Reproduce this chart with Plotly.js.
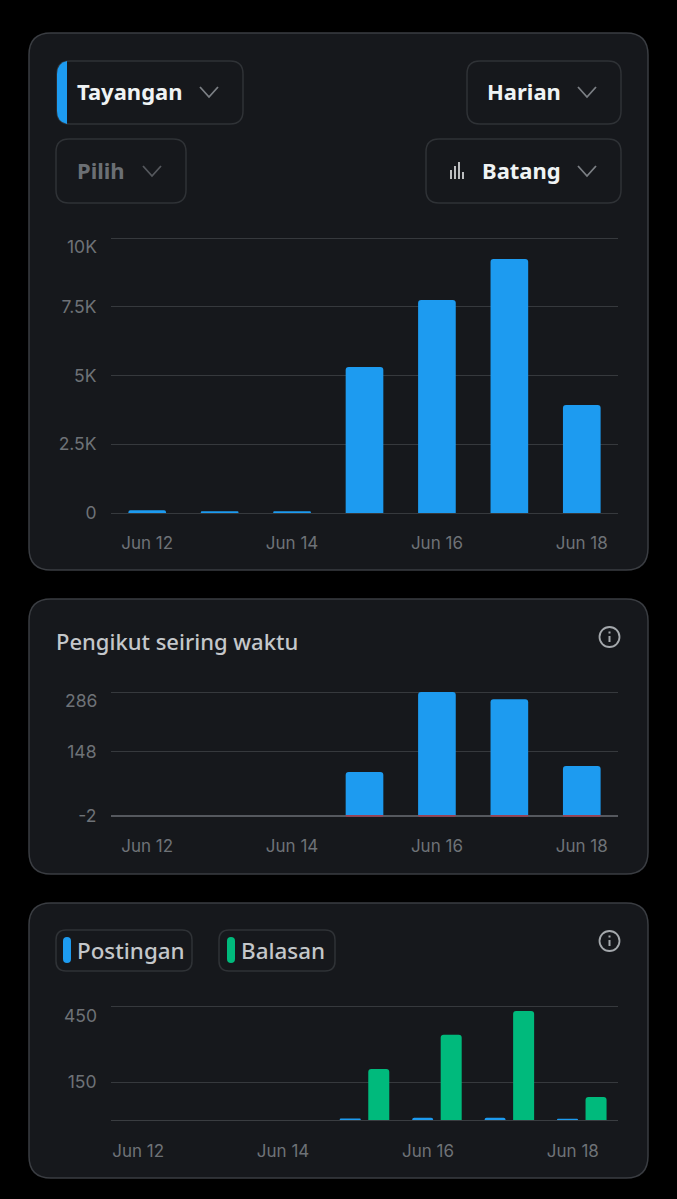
<!DOCTYPE html>
<html><head><meta charset="utf-8">
<script src="https://cdn.plot.ly/plotly-3.0.1.min.js"></script>
<style>html,body{margin:0;padding:0;background:#000}#c{width:677px;height:1199px}</style>
</head><body><div id="c"></div>
<script>
const days = ["Jun 12","Jun 13","Jun 14","Jun 15","Jun 16","Jun 17","Jun 18"];
const dateTickIdx = [0,2,4,6];
const dateTickText = ["Jun 12","Jun 14","Jun 16","Jun 18"];
const viewsValues = [100,60,60,5310,7745,9240,3930];
const viewsTicks = [0,2500,5000,7500,10000];
const viewsTickText = ["0","2.5K","5K","7.5K","10K"];
const followsGained = [0,0,0,100,286,269,114];
const followsLost = [0,0,0,-3,-3,-3,-3];
const followTicks = [-2,148,286];
const followTickText = ["-2","148","286"];
const postsValues = [0,0,0,6,9,9,5];
const repliesValues = [0,0,0,201,337,430,91];
const activityTicks = [0,150,450];
const activityTickText = ["","150","450"];

const W=677,H=1199;
const BLUE="#1d9bf0",GREEN="#00ba7c",RED="#b8344a",GRID="#36393d",TICK="#6e7277";
const FONT="Inter, sans-serif", UI="'Noto Sans', sans-serif";
const NB="\u00A0";
const px=x=>x/W, py=y=>1-y/H;
function rr(x0,y0,x1,y1,r){
  const X=px,Y=py;
  return `M${X(x0+r)},${Y(y0)}L${X(x1-r)},${Y(y0)}Q${X(x1)},${Y(y0)} ${X(x1)},${Y(y0+r)}L${X(x1)},${Y(y1-r)}Q${X(x1)},${Y(y1)} ${X(x1-r)},${Y(y1)}L${X(x0+r)},${Y(y1)}Q${X(x0)},${Y(y1)} ${X(x0)},${Y(y1-r)}L${X(x0)},${Y(y0+r)}Q${X(x0)},${Y(y0)} ${X(x0+r)},${Y(y0)}Z`;
}
const shapes=[];
const box=(x0,y0,x1,y1,r,fill,line,w)=>shapes.push({type:'path',xref:'paper',yref:'paper',path:rr(x0,y0,x1,y1,r),fillcolor:fill,line:{color:line||'rgba(0,0,0,0)',width:w||0},layer:'below'});
const poly=(pts,color,w)=>shapes.push({type:'path',xref:'paper',yref:'paper',path:'M'+pts.map(p=>px(p[0])+','+py(p[1])).join('L'),line:{color,width:w},layer:'below'});
const chev=(cx,cy,c)=>poly([[cx-9,cy-5],[cx,cy+5],[cx+9,cy-5]],c,1.8);
const ann=[];
const label=(text,x,y,size,color,weight,anchor,family)=>ann.push({text,xref:'paper',yref:'paper',x:px(x),y:py(y),xanchor:anchor||'left',yanchor:'middle',showarrow:false,font:{size,color,weight:weight||400,family:family||UI}});

// cards
box(29,33,648,570,22,'#16181c','#3a3d42',1.5);
box(29,599,648,874,22,'#16181c','#3a3d42',1.5);
box(29,903,648,1178,22,'#16181c','#3a3d42',1.5);
// controls
const BORDER='#2f3236';
box(57,61,243,124,13,'#16181c',BORDER,1.5);
box(467,61,621,124,13,'#16181c',BORDER,1.5);
box(56,139,186,203,13,'#16181c',BORDER,1.5);
box(426,139,621,203,13,'#16181c',BORDER,1.5);
shapes.push({type:'path',xref:'paper',yref:'paper',layer:'below',fillcolor:BLUE,line:{width:0},
  path:`M${px(67)},${py(61)}Q${px(57)},${py(63)} ${px(57)},${py(74)}L${px(57)},${py(111)}Q${px(57)},${py(122)} ${px(67)},${py(124)}Z`});
chev(209,92,'#7b7f84');chev(587,92,'#7b7f84');chev(152,171,'#55585d');chev(587,171,'#7b7f84');
[[451,170,179],[455,166,179],[459,162,179],[463,172,179]].forEach(b=>poly([[b[0],b[1]],[b[0],b[2]]],'#e7e9ea',1.6));
label('Tayangan',75,91,22,'#eff3f4',700);
label('Harian',484.5,91,22,'#eff3f4',700);
label('Pilih',75,170,22,'#6b6f74',700);
label('Batang',480,170,22,'#eff3f4',700);
label('Pengikut seiring waktu',54,641,22,'#c4c7ca',500);
// info icons
[637,941].forEach(cy=>{
  shapes.push({type:'circle',xref:'paper',yref:'paper',layer:'below',x0:px(599.5),x1:px(619.5),y0:py(cy+10),y1:py(cy-10),line:{color:'#a4a8ac',width:1.8}});
  poly([[609.5,cy-1],[609.5,cy+5]],'#a4a8ac',2);
  poly([[609.5,cy-5.5],[609.5,cy-3.5]],'#a4a8ac',2);
});
// legend chips
box(56,930,192,971,10,'#16181c',BORDER,1.5);
box(219,930,335,971,10,'#16181c',BORDER,1.5);
box(63,937,71,963,4,BLUE);
box(227,937,235,963,4,GREEN);
label('Postingan',75,950,22.4,'#c4c7ca',500);
label('Balasan',239,950,22.4,'#c4c7ca',500);
// top labels sit below their gridline
label(viewsTickText[4],99,246,17.5,TICK,400,'right',FONT);
label(followTickText[2],99,700,17.5,TICK,400,'right',FONT);
label(activityTickText[2],99,1015,17.5,TICK,400,'right',FONT);

const idx=days.map((d,i)=>i);
const xAxis=(anchor,len,shift,line)=>({
  domain:[px(111),px(618)],range:[-0.5,6.5],anchor,
  tickmode:'array',tickvals:dateTickIdx.map(i=>i+shift),ticktext:dateTickText,
  ticks:'outside',ticklen:len,tickcolor:'rgba(0,0,0,0)',tickwidth:1,
  tickfont:{family:FONT,size:17,color:TICK},showgrid:false,zeroline:false,
  showline:!!line,linecolor:line?line.c:undefined,linewidth:line?line.w:undefined,layer:'below traces'});
const yAxis=(anchor,y0,y1,range,vals,text)=>({
  domain:[py(y1),py(y0)],range,anchor,fixedrange:true,
  tickmode:'array',tickvals:vals,ticktext:text,
  ticks:'outside',ticklen:10,tickcolor:'rgba(0,0,0,0)',tickwidth:1,
  tickfont:{family:FONT,size:17.5,color:TICK},
  showgrid:true,gridcolor:GRID,gridwidth:1,zeroline:false,showline:false,layer:'below traces'});
// follower baseline sits on the -2 tick, under the bars
shapes.push({type:'line',xref:'x2',yref:'y2',x0:-0.5,x1:6.5,y0:followTicks[0],y1:followTicks[0],line:{color:'#55585e',width:2},layer:'between'});
const traces=[
 {type:'bar',x:idx,y:viewsValues,xaxis:'x',yaxis:'y',marker:{color:BLUE},width:0.52,name:'Tayangan'},
 {type:'bar',x:idx,y:followsGained,xaxis:'x2',yaxis:'y2',marker:{color:BLUE},width:0.52,name:'Pengikut'},
 {type:'bar',x:idx,y:followsLost,xaxis:'x2',yaxis:'y2',marker:{color:RED},width:0.52,name:'Berhenti'},
 {type:'bar',x:idx,y:postsValues,xaxis:'x3',yaxis:'y3',marker:{color:BLUE},width:0.29,offset:-0.342,name:'Postingan'},
 {type:'bar',x:idx,y:repliesValues,xaxis:'x3',yaxis:'y3',marker:{color:GREEN},width:0.29,offset:0.052,name:'Balasan'}
];
const layout={
 width:W,height:H,margin:{l:0,r:0,t:0,b:0,pad:0},paper_bgcolor:'#000',plot_bgcolor:'rgba(0,0,0,0)',
 showlegend:false,barmode:'overlay',barcornerradius:3,hovermode:false,
 font:{family:FONT},shapes,annotations:ann,
 xaxis:xAxis('y',15,0,{c:GRID,w:1}),
 yaxis:yAxis('x',235.8,513,[0,10080],viewsTicks,viewsTickText.map((t,i)=>i==4?NB:t)),
 xaxis2:xAxis('y2',13,0,null),
 yaxis2:yAxis('x2',690.29,817.72,[-6,290],followTicks,followTickText.map((t,i)=>i==2?NB:t)),
 xaxis3:xAxis('y3',16,-0.124,{c:'#3a3d41',w:1}),
 yaxis3:yAxis('x3',1004,1120,[0,458],activityTicks,activityTickText.map((t,i)=>i==2?NB:(t||NB)))
};
Plotly.newPlot('c',traces,layout,{staticPlot:true,displayModeBar:false});
</script></body></html>
